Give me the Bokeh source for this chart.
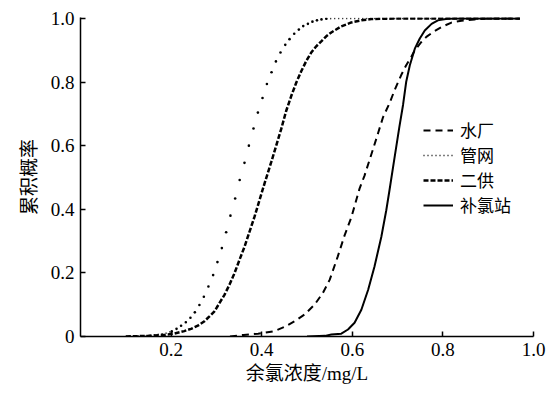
from bokeh.plotting import figure
from bokeh.models import Range1d, FixedTicker, Legend, LegendItem
from bokeh.embed import file_html
from bokeh.resources import INLINE

# 水厂 (dashed)
shui_x = [0.33, 0.36, 0.392, 0.406, 0.428, 0.450, 0.4725, 0.4946, 0.5167, 0.535, 0.550, 0.568,
          0.583, 0.598, 0.616, 0.627, 0.646, 0.657, 0.668, 0.682, 0.6935, 0.708, 0.719, 0.730,
          0.738, 0.7525, 0.7635, 0.778, 0.797, 0.819, 0.841, 0.87, 0.90, 0.97]
shui_y = [0.0, 0.005, 0.009, 0.0115, 0.017, 0.030, 0.048, 0.069, 0.100, 0.137, 0.178, 0.252,
          0.318, 0.375, 0.465, 0.506, 0.590, 0.640, 0.690, 0.733, 0.775, 0.822, 0.853, 0.879,
          0.900, 0.926, 0.942, 0.957, 0.973, 0.987, 0.993, 0.997, 1.0, 1.0]

# 管网 (dotted)
guan_x = [0.10, 0.14, 0.17, 0.19, 0.2015, 0.212, 0.222, 0.2325, 0.2427, 0.2524, 0.2625, 0.2723,
          0.2824, 0.2928, 0.3023, 0.312, 0.3215, 0.331, 0.3414, 0.3514, 0.362, 0.3717, 0.3819,
          0.3916, 0.4018, 0.4115, 0.4217, 0.4314, 0.4415, 0.452, 0.4614, 0.4718, 0.482, 0.4917,
          0.502, 0.512, 0.522, 0.532, 0.5425, 0.56, 0.60, 0.97]
guan_y = [0.0, 0.002, 0.006, 0.011, 0.016, 0.024, 0.034, 0.045, 0.059, 0.076, 0.099, 0.125,
          0.157, 0.193, 0.234, 0.278, 0.328, 0.380, 0.434, 0.492, 0.546, 0.600, 0.654,
          0.704, 0.750, 0.794, 0.831, 0.865, 0.893, 0.917, 0.935, 0.952, 0.965, 0.976,
          0.983, 0.990, 0.994, 0.997, 0.999, 1.0, 1.0, 1.0]

# 二供 (short dashes)
ergong_x = [0.10, 0.15, 0.185, 0.207, 0.229, 0.244, 0.259, 0.2736, 0.2846, 0.2957, 0.3067, 0.3178,
            0.3288, 0.3399, 0.351, 0.362, 0.373, 0.384, 0.395, 0.406, 0.421, 0.432, 0.443,
            0.454, 0.4652, 0.4762, 0.4873, 0.4983, 0.509, 0.5204, 0.5315, 0.5425, 0.5536,
            0.5757, 0.5978, 0.62, 0.642, 0.70, 0.97]
ergong_y = [0.0, 0.002, 0.005, 0.009, 0.017, 0.024, 0.034, 0.048, 0.063, 0.079, 0.105, 0.131,
            0.1625, 0.199, 0.241, 0.282, 0.329, 0.376, 0.428, 0.480, 0.548, 0.600, 0.652,
            0.709, 0.756, 0.798, 0.834, 0.866, 0.892, 0.9125, 0.928, 0.944, 0.956,
            0.975, 0.9875, 0.994, 0.998, 1.0, 1.0]

# 补氯站 (solid)
bulv_x = [0.50, 0.54, 0.5536, 0.5757, 0.5905, 0.605, 0.620, 0.635, 0.649, 0.664, 0.675, 0.682,
          0.693, 0.704, 0.712, 0.719, 0.727, 0.738, 0.749, 0.760, 0.775, 0.789, 0.81, 0.83, 0.97]
bulv_y = [0.0, 0.002, 0.006, 0.009, 0.022, 0.043, 0.084, 0.147, 0.220, 0.313, 0.397, 0.459,
          0.56, 0.66, 0.728, 0.801, 0.853, 0.905, 0.937, 0.962, 0.983, 0.994, 0.999, 1.0, 1.0]

labels = ["水厂", "管网", "二供", "补氯站"]
x_ticks = [0.2, 0.4, 0.6, 0.8, 1.0]
y_ticks = [0, 0.2, 0.4, 0.6, 0.8, 1.0]

serif = "Liberation Serif"
cjk = "Noto Sans CJK SC"

p = figure(width=549, height=386, output_backend="svg", toolbar_location=None,
           x_range=Range1d(0, 1.0), y_range=Range1d(0, 1.003),
           min_border_left=80, min_border_top=17, min_border_right=16, min_border_bottom=49)
p.outline_line_color = None
p.grid.visible = False
p.background_fill_color = "white"

r_shui = p.line(shui_x, shui_y, line_color="black", line_width=2, line_dash="7 5")

mid = [i for i, x in enumerate(guan_x) if 0.2 <= x <= 0.545]
lo = [i for i, x in enumerate(guan_x) if x <= 0.2015]
hi = [i for i, x in enumerate(guan_x) if x >= 0.5425]
p.scatter([guan_x[i] for i in mid], [guan_y[i] for i in mid], size=2.6,
          fill_color="black", line_color=None)
p.line([guan_x[i] for i in lo], [guan_y[i] for i in lo], line_color="black",
       line_width=1.6, line_dash="1 3")
r_guan = p.line([guan_x[i] for i in hi], [guan_y[i] for i in hi], line_color="black",
                line_width=1.6, line_dash="1 3")

r_ergong = p.line(ergong_x, ergong_y, line_color="black", line_width=2.5, line_dash="5 2")
r_bulv = p.line(bulv_x, bulv_y, line_color="black", line_width=2)

legend = Legend(items=[LegendItem(label=labels[0], renderers=[r_shui]),
                       LegendItem(label=labels[1], renderers=[r_guan]),
                       LegendItem(label=labels[2], renderers=[r_ergong]),
                       LegendItem(label=labels[3], renderers=[r_bulv])],
                location=(343, 119), padding=0, margin=0, spacing=0,
                glyph_width=30, glyph_height=18, label_height=18, label_standoff=7,
                label_text_font=cjk, label_text_font_size="17px",
                label_text_color="black",
                border_line_color=None, background_fill_alpha=0)
p.add_layout(legend)

for ax in (p.xaxis[0], p.yaxis[0]):
    ax.axis_line_color = "black"
    ax.axis_line_width = 1.5
    ax.major_tick_line_color = "black"
    ax.major_tick_line_width = 1.5
    ax.major_tick_in = 5
    ax.major_tick_out = 0
    ax.minor_tick_line_color = None
    ax.major_label_text_font = serif
    ax.major_label_text_font_size = "19px"
    ax.major_label_text_color = "black"
    ax.axis_label_text_font = serif + ", " + cjk
    ax.axis_label_text_font_size = "19px"
    ax.axis_label_text_font_style = "normal"
    ax.axis_label_text_color = "black"

p.xaxis.ticker = FixedTicker(ticks=x_ticks)
p.yaxis.ticker = FixedTicker(ticks=y_ticks)
p.xaxis.major_label_overrides = {1: "1.0"}
p.yaxis.major_label_overrides = {0: "0", 1: "1.0"}
p.xaxis.major_label_standoff = 6
p.yaxis.major_label_standoff = 6
p.xaxis.axis_label = "余氯浓度/mg/L"
p.yaxis.axis_label = "累积概率"
p.xaxis.axis_label_standoff = 4
p.yaxis.axis_label_standoff = 8

open("out.html", "w").write(file_html(p, INLINE))
